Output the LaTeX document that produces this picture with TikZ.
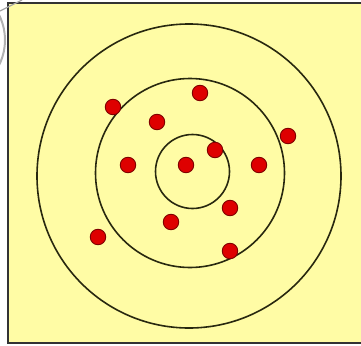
\documentclass[tikz,border=0pt]{standalone}
\usepackage[dvipsnames]{xcolor}
\usepackage{tikz}
\usetikzlibrary{calc}
\definecolor{paleyellow}{RGB}{255,252,165}
\definecolor{darkred}{rgb}{0.5,0,0}
\definecolor{shotred}{RGB}{222,0,0}
\definecolor{ringline}{RGB}{40,40,15}

\begin{document}
\begin{tikzpicture}[x=1pt,y=-1pt,
    ring/.style={draw=ringline,line width=1.6pt},
    shot/.style={circle,fill=shotred,draw=darkred,line width=0.9pt,minimum size=15.5pt,inner sep=0pt}]
                \useasboundingbox (0,0) rectangle (361,345);
                \coordinate (c1) at (189,176);
                \coordinate (c2) at (190,173);
                \coordinate (c3) at (192.5,171.5);
                %Shade
                \fill[paleyellow] (8,3) rectangle (361,343);
                \draw[line width=1.5pt,black!80] (361,3) -- (8,3) -- (8,343) -- (361,343);
                %Cut off bits on the left
                \draw[gray!70,line width=1.2pt] (0,11) -- (22,0);
                \begin{scope}
                    \clip (0,14) rectangle (7,68);
                    \draw[gray!60,line width=2pt] (-51,40) circle[radius=56pt];
                \end{scope}
                %Rings
                \draw[ring] (c1) circle[radius=152pt];
                \draw[ring] (c2) circle[radius=94.5pt];
                \draw[ring] (c3) circle[radius=37pt];
                %Shots
                \foreach \px/\py [count=\i] in {200/93,113/107,157/122,288/136,215/150,128/165,186/165,259/165,230/208,171/222,98/237,230/251}
                    \node[shot] (s\i) at (\px,\py) {};
            \end{tikzpicture}
\end{document}
